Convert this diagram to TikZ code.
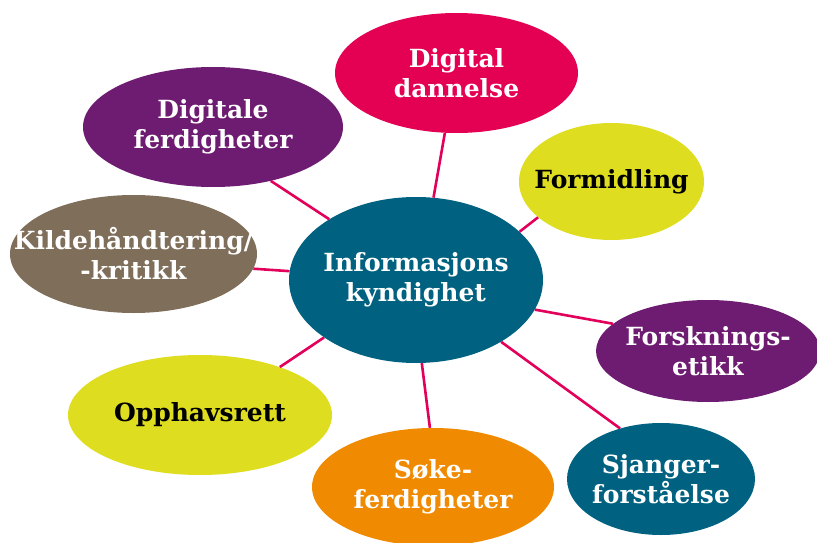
\documentclass[tikz,border=0pt]{standalone}
\usepackage{fontspec}
\setmainfont{DejaVu Serif}
\usetikzlibrary{shapes.geometric}
\definecolor{cteal}{RGB}{0,98,128}
\definecolor{cpink}{RGB}{228,0,82}
\definecolor{cpurple}{RGB}{110,28,114}
\definecolor{cyellow}{RGB}{222,221,31}
\definecolor{cbrown}{RGB}{126,110,90}
\definecolor{corange}{RGB}{240,138,0}
\definecolor{cline}{RGB}{227,0,90}
\tikzset{
  bubble/.style={ellipse, draw=none, inner sep=0pt},
  btext/.style={align=center, inner sep=0pt, font=\bfseries\fontsize{25}{30}\selectfont},
  wtext/.style={btext, text=white},
  ktext/.style={btext, text=black},
  link/.style={draw=cline, line width=2.6pt}
}
\begin{document}
\begin{tikzpicture}[x=1pt, y=-1pt]
\useasboundingbox (0,0) rectangle (817,543);
% bubbles
\node[bubble, fill=cteal, minimum width=254pt, minimum height=166pt] (c) at (416,280) {};
\node[bubble, fill=cpink, minimum width=243pt, minimum height=120pt] (dd) at (456.5,73) {};
\node[bubble, fill=cpurple, minimum width=260pt, minimum height=120pt] (df) at (213,127) {};
\node[bubble, fill=cyellow, minimum width=185pt, minimum height=117pt] (fo) at (611.5,181.5) {};
\node[bubble, fill=cbrown, minimum width=247pt, minimum height=118pt] (kh) at (133.5,254) {};
\node[bubble, fill=cpurple, minimum width=224pt, minimum height=102pt] (fe) at (708,351) {};
\node[bubble, fill=cteal, minimum width=188pt, minimum height=112pt] (sj) at (661,479) {};
\node[bubble, fill=corange, minimum width=242pt, minimum height=118pt] (sk) at (433,487) {};
\node[bubble, fill=cyellow, minimum width=264pt, minimum height=120pt] (op) at (200,415) {};
% connectors
\draw[link] (dd.-101) -- (c.78.4);
\draw[link] (df.-43.5) -- (c.145.7);
\draw[link] (fo.-154.8) -- (c.25.7);
\draw[link] (kh.-7.4) -- (c.176.4);
\draw[link] (fe.164.5) -- (c.-14);
\draw[link] (sj.129.7) -- (c.-36.9);
\draw[link] (sk.93.8) -- (c.-86.5);
\draw[link] (op.31.9) -- (c.-148.5);
% texts
\node[wtext] (ct) at (c) {Informasjons\\kyndighet};
\node[wtext] (ddt) at (dd) {Digital\\dannelse};
\node[wtext] (dft) at (df) {Digitale\\ferdigheter};
\node[ktext] (fot) at (fo) {Formidling};
\node[wtext] (kht) at (kh) {Kildehåndtering/\\-kritikk};
\node[wtext] (fet) at (fe) {Forsknings-\\etikk};
\node[wtext] (sjt) at (sj) {Sjanger-\\forståelse};
\node[wtext] (skt) at (sk) {Søke-\\ferdigheter};
\node[ktext] (opt) at (op) {Opphavsrett};
\end{tikzpicture}
\end{document}
